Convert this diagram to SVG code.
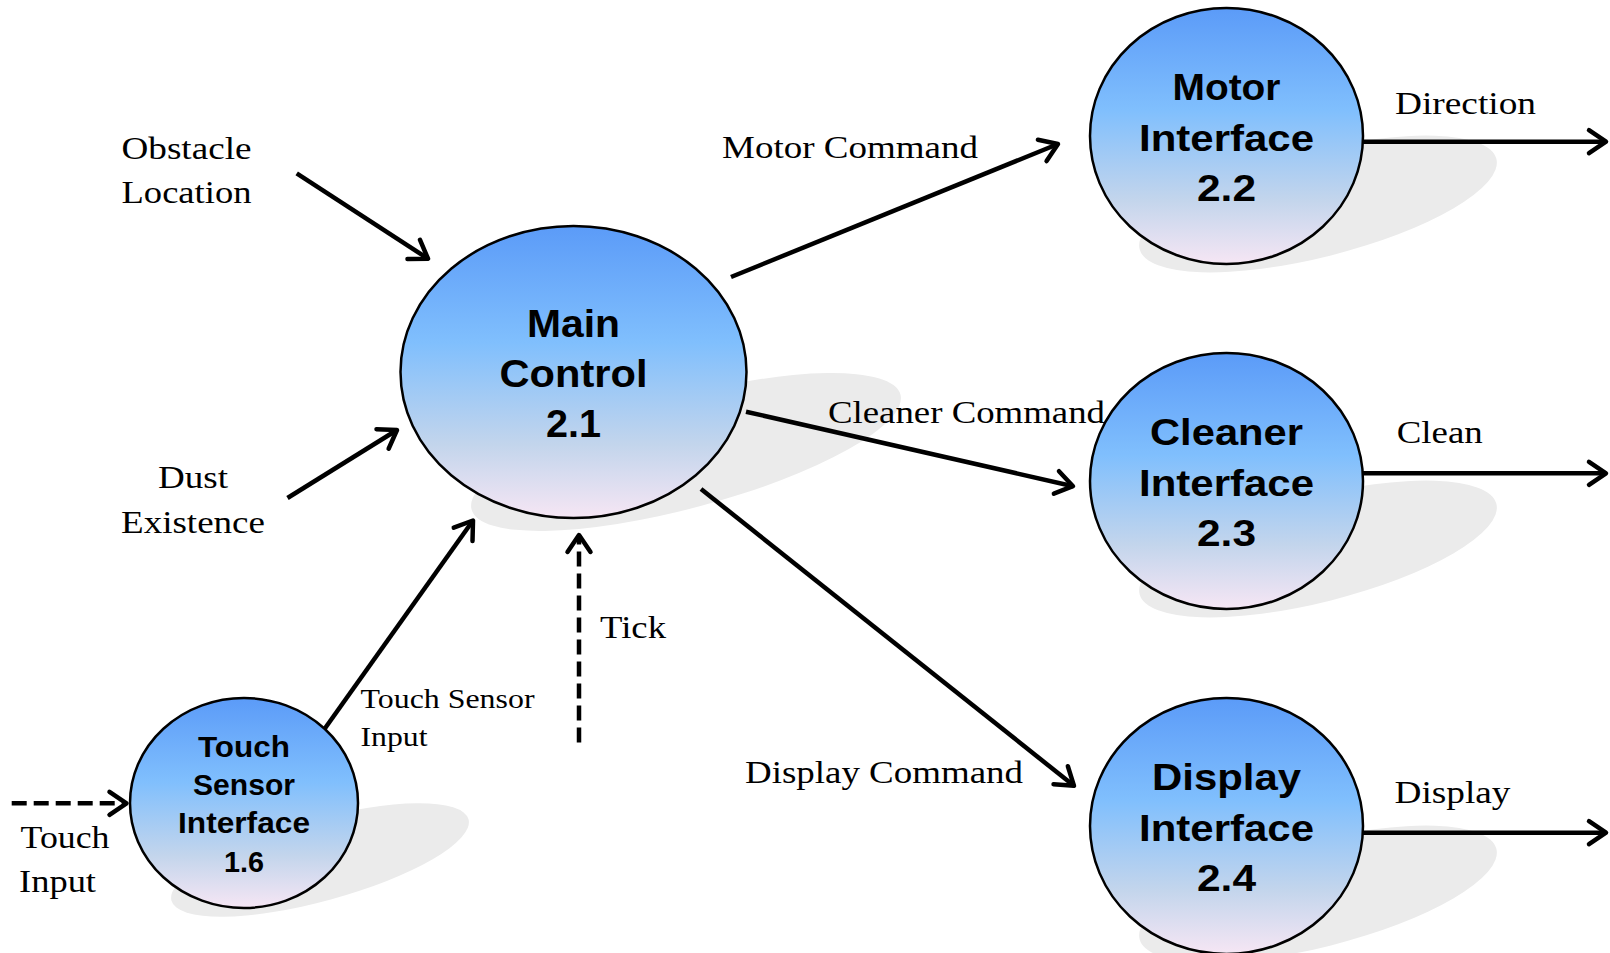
<svg xmlns="http://www.w3.org/2000/svg" width="1610" height="953" viewBox="0 0 1610 953">
  <style>
    .bubble { stroke: #000; stroke-width: 2.5; fill: url(#bubbleFill); }
    .shadow { fill: #ebebeb; stroke: none; }
    .name { font-family: "Liberation Sans", Arial, sans-serif; font-weight: bold; fill: #000; text-anchor: middle; }
    .flow { fill: none; stroke: #000; stroke-width: 4.5; marker-end: url(#arrow); }
    .dashed { stroke-dasharray: 15 7; }
    .label { font-family: "Liberation Serif", "Times New Roman", serif; font-size: 32px; fill: #000; }
    .small { font-size: 28px; }
  </style>
  <defs>
    <linearGradient id="bubbleFill" x1="0" y1="0" x2="0" y2="1">
      <stop offset="0" stop-color="#5b9bf8"/>
      <stop offset="0.4" stop-color="#80bffd"/>
      <stop offset="0.75" stop-color="#c3d5ec"/>
      <stop offset="1" stop-color="#f6e6f4"/>
    </linearGradient>
    <marker id="arrow" markerUnits="userSpaceOnUse" viewBox="-24 -16 30 32" refX="0" refY="0" markerWidth="30" markerHeight="32" orient="auto">
      <path d="M -17 -11.5 L 0 0 L -17 11.5" fill="none" stroke="#000" stroke-width="4.5" stroke-linejoin="round" stroke-linecap="round"/>
    </marker>
  </defs>

  <!-- process bubbles, each with its drop shadow -->
  <g id="node-main-control">
    <ellipse class="shadow" cx="686" cy="452" rx="222" ry="56" transform="rotate(-15 686 452)"/>
    <ellipse class="bubble" cx="573.5" cy="372" rx="173" ry="146"/>
    <text class="name" font-size="39" x="573.5" y="336.7" textLength="93" lengthAdjust="spacingAndGlyphs">Main</text>
    <text class="name" font-size="39" x="573.5" y="386.7" textLength="148" lengthAdjust="spacingAndGlyphs">Control</text>
    <text class="name" font-size="39" x="573.5" y="436.7" textLength="55" lengthAdjust="spacingAndGlyphs">2.1</text>
  </g>

  <g id="node-motor-interface">
    <ellipse class="shadow" cx="1318" cy="204" rx="184" ry="53" transform="rotate(-14.2 1318 204)"/>
    <ellipse class="bubble" cx="1226.5" cy="136" rx="136.5" ry="128"/>
    <text class="name" font-size="37" x="1226.5" y="100" textLength="108" lengthAdjust="spacingAndGlyphs">Motor</text>
    <text class="name" font-size="37" x="1226.5" y="151" textLength="175" lengthAdjust="spacingAndGlyphs">Interface</text>
    <text class="name" font-size="37" x="1226.5" y="201" textLength="59" lengthAdjust="spacingAndGlyphs">2.2</text>
  </g>

  <g id="node-cleaner-interface">
    <ellipse class="shadow" cx="1318" cy="549" rx="184" ry="53" transform="rotate(-14.2 1318 549)"/>
    <ellipse class="bubble" cx="1226.5" cy="481" rx="136.5" ry="128"/>
    <text class="name" font-size="37" x="1226.5" y="445" textLength="153" lengthAdjust="spacingAndGlyphs">Cleaner</text>
    <text class="name" font-size="37" x="1226.5" y="496" textLength="175" lengthAdjust="spacingAndGlyphs">Interface</text>
    <text class="name" font-size="37" x="1226.5" y="546" textLength="59" lengthAdjust="spacingAndGlyphs">2.3</text>
  </g>

  <g id="node-display-interface">
    <ellipse class="shadow" cx="1318" cy="894" rx="184" ry="53" transform="rotate(-14.2 1318 894)"/>
    <ellipse class="bubble" cx="1226.5" cy="826" rx="136.5" ry="128"/>
    <text class="name" font-size="37" x="1226.5" y="790" textLength="149" lengthAdjust="spacingAndGlyphs">Display</text>
    <text class="name" font-size="37" x="1226.5" y="841" textLength="175" lengthAdjust="spacingAndGlyphs">Interface</text>
    <text class="name" font-size="37" x="1226.5" y="891" textLength="59" lengthAdjust="spacingAndGlyphs">2.4</text>
  </g>

  <g id="node-touch-sensor-interface">
    <ellipse class="shadow" cx="320" cy="860" rx="154" ry="41" transform="rotate(-15.3 320 860)"/>
    <ellipse class="bubble" cx="244" cy="803" rx="114" ry="105"/>
    <text class="name" font-size="29" x="244" y="756.7" textLength="92" lengthAdjust="spacingAndGlyphs">Touch</text>
    <text class="name" font-size="29" x="244" y="795" textLength="102" lengthAdjust="spacingAndGlyphs">Sensor</text>
    <text class="name" font-size="29" x="244" y="833.3" textLength="132" lengthAdjust="spacingAndGlyphs">Interface</text>
    <text class="name" font-size="29" x="244" y="871.7" textLength="40" lengthAdjust="spacingAndGlyphs">1.6</text>
  </g>

  <!-- data flows -->
  <g id="connectors">
    <line class="flow" x1="296.7" y1="173.3" x2="428" y2="258.7"/>
    <line class="flow" x1="287.5" y1="498" x2="397" y2="430"/>
    <line class="flow" x1="324.5" y1="729" x2="473" y2="520.5"/>
    <line class="flow dashed" x1="579" y1="742.5" x2="579" y2="535"/>
    <line class="flow dashed" x1="11.7" y1="803.3" x2="126.5" y2="803.3"/>
    <line class="flow" x1="731" y1="277" x2="1058" y2="144"/>
    <line class="flow" x1="746" y1="411.7" x2="1073" y2="486.2"/>
    <line class="flow" x1="701" y1="489" x2="1074" y2="785.8"/>
    <line class="flow" x1="1363" y1="141.7" x2="1606" y2="141.7"/>
    <line class="flow" x1="1363" y1="473.3" x2="1606" y2="473.3"/>
    <line class="flow" x1="1363" y1="832.7" x2="1606" y2="832.7"/>
  </g>

  <!-- flow labels -->
  <g id="labels">
    <text class="label" x="121.5" y="158.5" textLength="130" lengthAdjust="spacingAndGlyphs">Obstacle</text>
    <text class="label" x="121.5" y="203" textLength="130" lengthAdjust="spacingAndGlyphs">Location</text>
    <text class="label" x="158" y="488" textLength="70" lengthAdjust="spacingAndGlyphs">Dust</text>
    <text class="label" x="121" y="532.5" textLength="144" lengthAdjust="spacingAndGlyphs">Existence</text>
    <text class="label small" x="360.5" y="708" textLength="174" lengthAdjust="spacingAndGlyphs">Touch Sensor</text>
    <text class="label small" x="360.5" y="746" textLength="67" lengthAdjust="spacingAndGlyphs">Input</text>
    <text class="label" x="600" y="638" textLength="66" lengthAdjust="spacingAndGlyphs">Tick</text>
    <text class="label" x="20.5" y="848.3" textLength="89" lengthAdjust="spacingAndGlyphs">Touch</text>
    <text class="label" x="19" y="892" textLength="77" lengthAdjust="spacingAndGlyphs">Input</text>
    <text class="label" x="722" y="157.5" textLength="256" lengthAdjust="spacingAndGlyphs">Motor Command</text>
    <text class="label" x="828" y="423.3" textLength="277" lengthAdjust="spacingAndGlyphs">Cleaner Command</text>
    <text class="label" x="745" y="782.7" textLength="278" lengthAdjust="spacingAndGlyphs">Display Command</text>
    <text class="label" x="1395" y="114" textLength="141" lengthAdjust="spacingAndGlyphs">Direction</text>
    <text class="label" x="1396.7" y="443.3" textLength="86" lengthAdjust="spacingAndGlyphs">Clean</text>
    <text class="label" x="1394.5" y="803" textLength="116" lengthAdjust="spacingAndGlyphs">Display</text>
  </g>
</svg>
